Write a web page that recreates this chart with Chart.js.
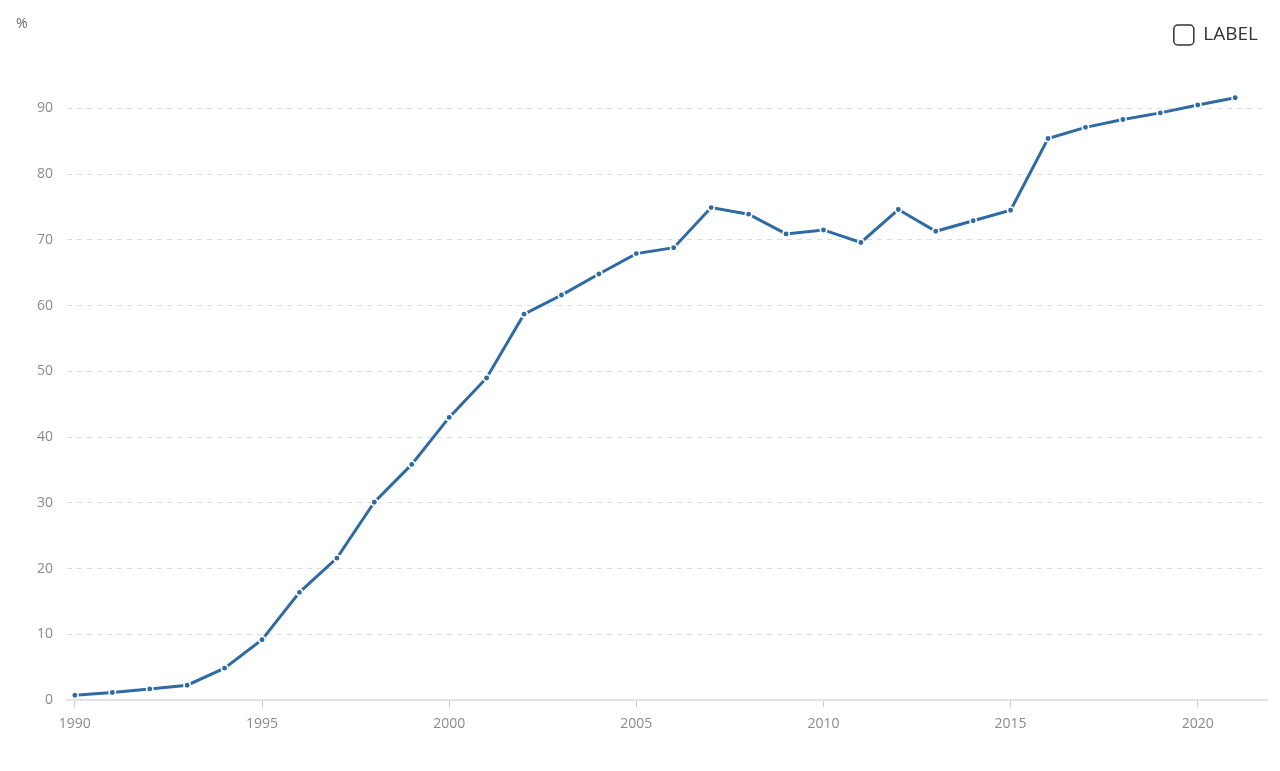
<!DOCTYPE html>
<html>
<head>
<meta charset="utf-8">
<script src="https://cdn.jsdelivr.net/npm/chart.js@4"></script>
<style>
    html, body { margin: 0; padding: 0; background: #fff; }
    #chart_container { width: 1280px; height: 771px; }
</style>
</head>
<body>
<div id="chart_container"><canvas id="myChart"></canvas></div>
<script>
const years = [1990, 1991, 1992, 1993, 1994, 1995, 1996, 1997, 1998, 1999,
    2000, 2001, 2002, 2003, 2004, 2005, 2006, 2007, 2008, 2009,
    2010, 2011, 2012, 2013, 2014, 2015, 2016, 2017, 2018, 2019,
    2020, 2021];
const values = [0.76, 1.17, 1.72, 2.28, 4.87, 9.2, 16.4, 21.6, 30.1, 35.85,
    43.0, 49.0, 58.7, 61.6, 64.8, 67.9, 68.8, 74.9, 73.9, 70.9,
    71.5, 69.6, 74.6, 71.3, 72.9, 74.5, 85.4, 87.1, 88.3, 89.3,
    90.5, 91.6];
const xTicks = [1990, 1995, 2000, 2005, 2010, 2015, 2020];
const yTicks = [0, 10, 20, 30, 40, 50, 60, 70, 80, 90];
const seriesLabel = "LABEL";
const unitLabel = "%";

const lineColor = "#2f6aa3";
const tickColor = "#8a8a8a";
Chart.defaults.font.family = "'Open Sans', sans-serif";

// the "%" caption in the top left corner
const unitPlugin = {
    id: "unitLabel",
    afterDraw(chart) {
        const ctx = chart.ctx;
        ctx.save();
        ctx.font = "14px 'Open Sans'";
        ctx.fillStyle = "#666";
        ctx.textBaseline = "middle";
        ctx.fillText(unitLabel, 16, 24);
        ctx.restore();
    }
};

const ctx = document.getElementById("myChart").getContext("2d");
const chart = new Chart(ctx, {
    type: "line",
    data: {
        datasets: [
            {
                label: seriesLabel,
                data: years.map((x, i) => ({ x, y: values[i] })),
                borderColor: lineColor,
                backgroundColor: lineColor,
                borderWidth: 3,
                pointRadius: 3.2,
                pointBorderWidth: 1.5,
                pointBorderColor: "#fff",
                pointBackgroundColor: lineColor,
                fill: false,
                tension: 0
            }
        ]
    },
    options: {
        responsive: true,
        maintainAspectRatio: false,
        animation: false,
        layout: {
            padding: { top: 16, left: 23, right: 13, bottom: 31 }
        },
        plugins: {
            legend: {
                position: "top",
                align: "end",
                fullSize: false,
                onClick: null,
                labels: {
                    boxWidth: 20,
                    boxHeight: 20,
                    padding: 9,
                    color: "#333",
                    font: { size: 19 },
                    useBorderRadius: true,
                    borderRadius: 4,
                    generateLabels: (c) => [{
                        text: seriesLabel,
                        fillStyle: "#fff",
                        strokeStyle: "#333",
                        lineWidth: 1.5,
                        fontColor: "#333",
                        datasetIndex: 0,
                        borderRadius: 4
                    }]
                }
            },
            tooltip: { enabled: false }
        },
        scales: {
            x: {
                type: "linear",
                min: 1989.79,
                max: 2021.85,
                afterBuildTicks: (scale) => {
                    scale.ticks = xTicks.map((v) => ({ value: v }));
                },
                ticks: {
                    color: tickColor,
                    font: { size: 14 },
                    padding: 8,
                    maxRotation: 0,
                    callback: (v) => String(v)
                },
                grid: {
                    drawOnChartArea: false,
                    drawTicks: true,
                    tickLength: 7,
                    color: "#c8c8c8"
                },
                border: {
                    display: true,
                    color: "#e1e1e8",
                    width: 2
                }
            },
            y: {
                min: 0,
                max: 98.1,
                afterBuildTicks: (scale) => {
                    scale.ticks = yTicks.map((v) => ({ value: v }));
                },
                ticks: {
                    color: tickColor,
                    font: { size: 14 },
                    padding: 14
                },
                grid: {
                    drawTicks: false,
                    color: (c) => c.tick && c.tick.value === 0 ? "transparent" : "#dcdcdc",
                    lineWidth: 1
                },
                border: {
                    display: false,
                    dash: [5, 5]
                }
            }
        }
    },
    plugins: [unitPlugin]
});
</script>
</body>
</html>
